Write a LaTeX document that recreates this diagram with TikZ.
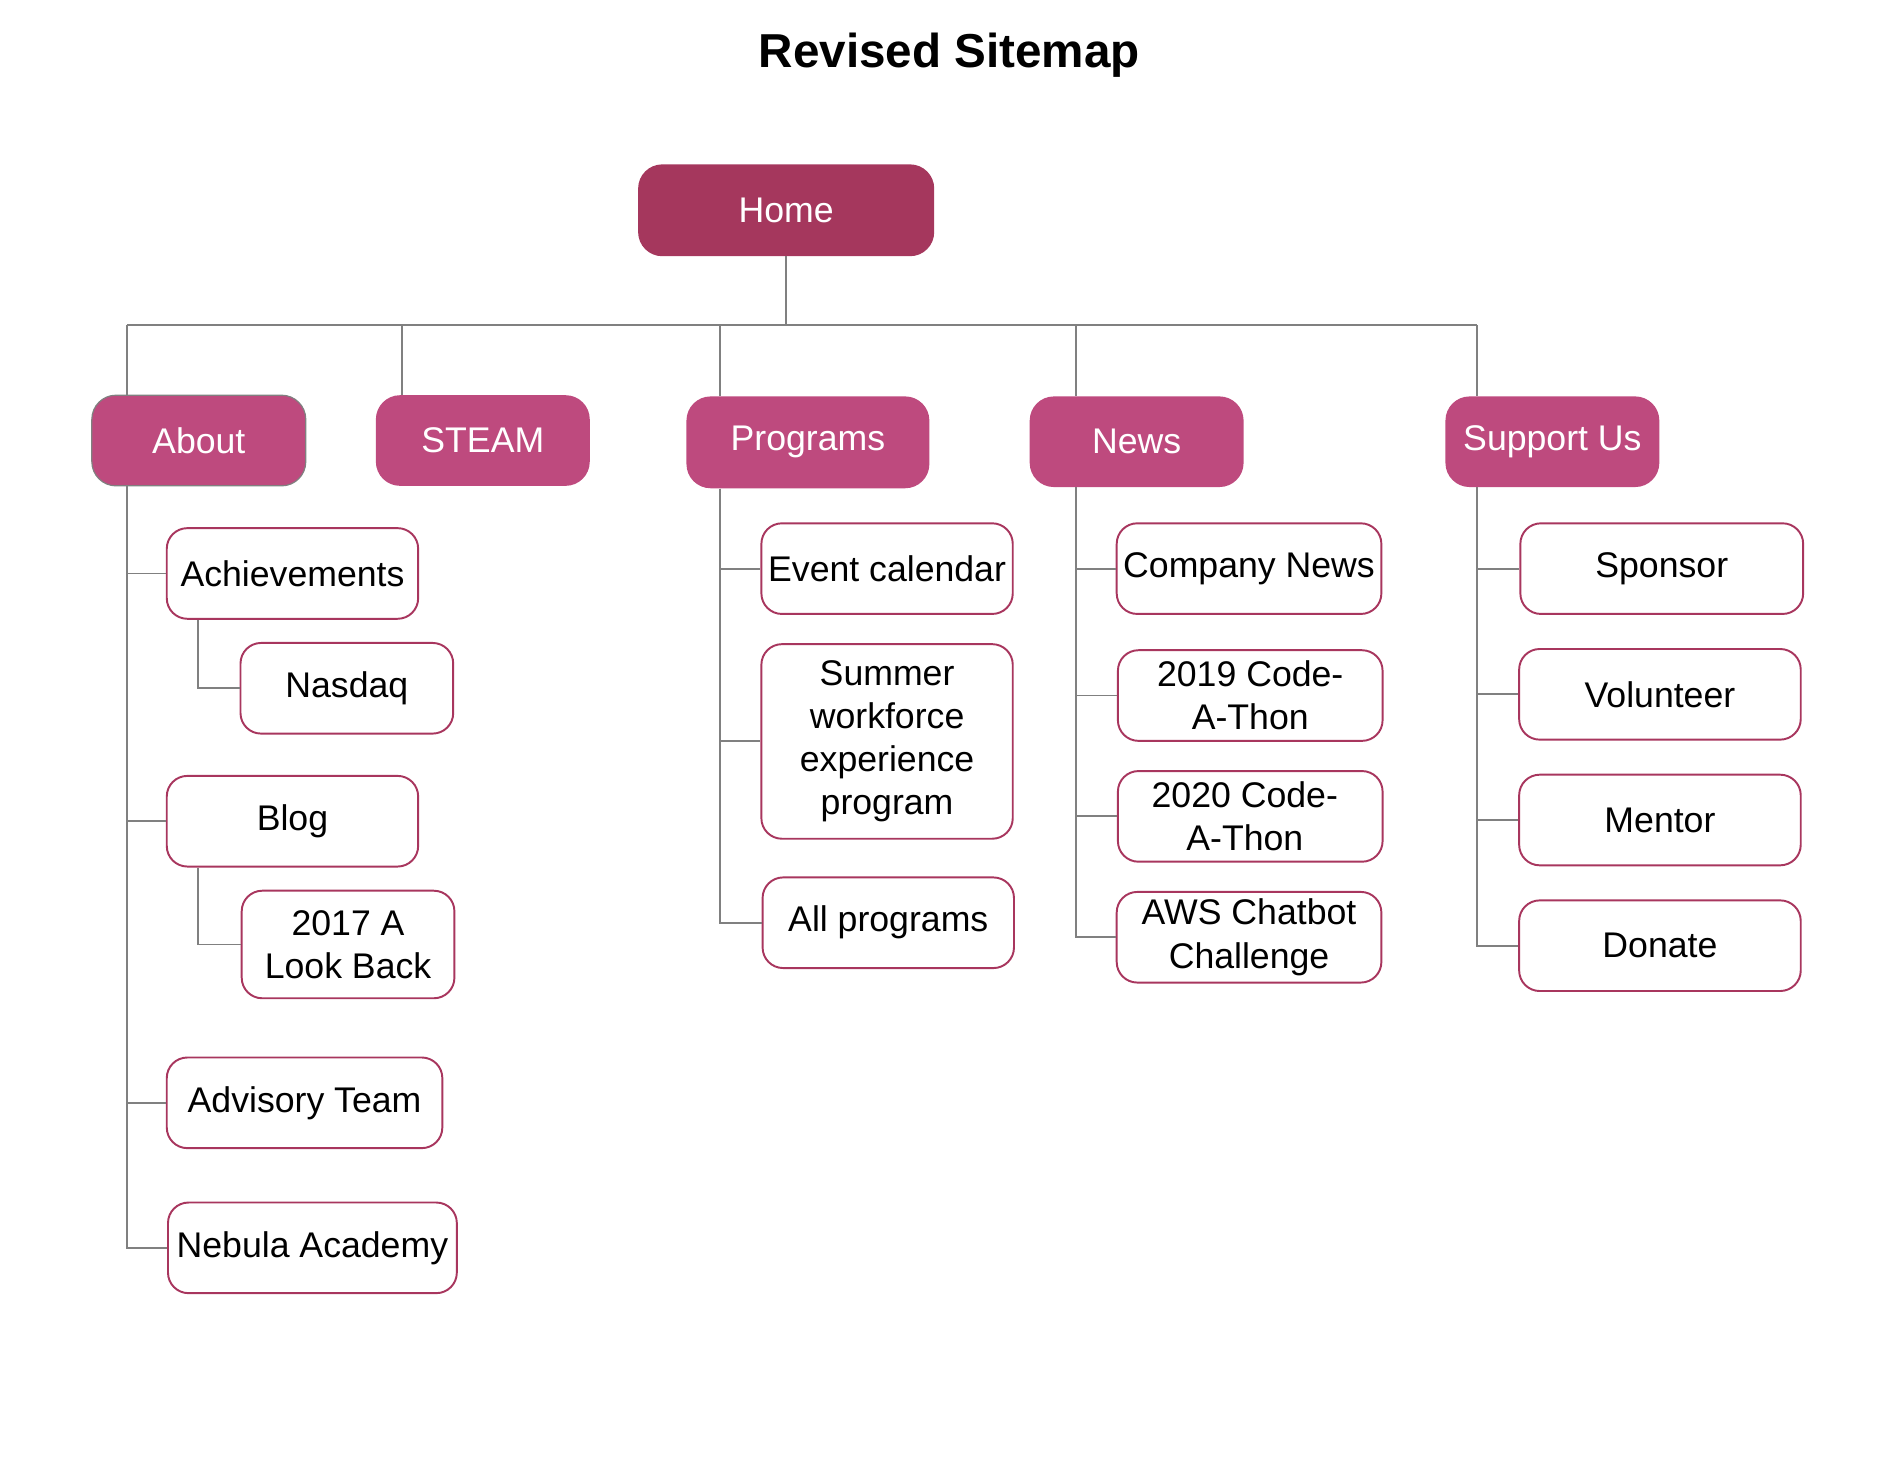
\documentclass[tikz,border=0pt]{standalone}
\usepackage{fontspec}
\setmainfont{Liberation Sans}
\usetikzlibrary{calc}
\definecolor{homefill}{HTML}{A5375D}
\definecolor{lvlfill}{HTML}{BE4A7E}
\definecolor{cborder}{HTML}{A8365E}
\definecolor{linegray}{HTML}{808080}
\tikzset{
  bodyfont/.style={font=\fontsize{29.5}{35.7}\selectfont},
  homebox/.style={bodyfont, fill=homefill, text=white, rounded corners=20pt, inner sep=0pt, align=center},
  lvlbox/.style={bodyfont, fill=lvlfill, text=white, rounded corners=20pt, inner sep=0pt, align=center},
  childbox/.style={bodyfont, draw=cborder, line width=1.6pt, fill=white, text=black, rounded corners=17pt, inner sep=0pt, align=center},
  conn/.style={draw=linegray, line width=1.6pt},
}
\begin{document}
\begin{tikzpicture}[x=1pt,y=-1pt]
\useasboundingbox (0,0) rectangle (1568,1205.6);
\node[font=\fontsize{39.4}{44}\selectfont\bfseries] (title) at (785.5,45.5) {Revised Sitemap};

% level 0 and 1
\node[homebox, minimum width=245pt, minimum height=76pt] (home) at (650.5,174) {Home};
\node[lvlbox, draw=linegray, line width=1pt, minimum width=177pt, minimum height=75pt] (about) at (164.5,364.5) {About};
\node[lvlbox, minimum width=177pt, minimum height=75pt] (steam) at (399.5,364.5) {STEAM};
\node[lvlbox, minimum width=201pt, minimum height=76pt] (programs) at (668.5,366) {Programs};
\node[lvlbox, minimum width=177pt, minimum height=75pt] (news) at (940.5,365.5) {News};
\node[lvlbox, minimum width=177pt, minimum height=75pt] (support) at (1284.5,365.5) {Support Us};

% About children
\node[childbox, minimum width=208pt, minimum height=75pt] (achv) at (242,474.5) {Achievements};
\node[childbox, minimum width=176pt, minimum height=75pt] (nasdaq) at (287,569.5) {Nasdaq};
\node[childbox, minimum width=208pt, minimum height=75pt] (blog) at (242,679.5) {Blog};
\node[childbox, minimum width=176pt, minimum height=89pt] (lookback) at (288,781.5) {2017 A\\Look Back};
\node[childbox, minimum width=228pt, minimum height=75pt] (advisory) at (252,912.5) {Advisory Team};
\node[childbox, minimum width=239pt, minimum height=75pt] (nebula) at (258.5,1032.5) {Nebula Academy};

% Programs children
\node[childbox, minimum width=208pt, minimum height=75pt] (event) at (734,470.5) {Event calendar};
\node[childbox, minimum width=208pt, minimum height=161pt] (summer) at (734,613.5) {Summer\\workforce\\experience\\program};
\node[childbox, minimum width=208pt, minimum height=75pt] (allprog) at (735,763.5) {All programs};

% News children
\node[childbox, minimum width=219pt, minimum height=75pt] (company) at (1033.5,470.5) {Company News};
\node[childbox, minimum width=219pt, minimum height=75pt] (code19) at (1034.5,575.5) {2019 Code-\\A-Thon};
\node[childbox, minimum width=219pt, minimum height=75pt] (code20) at (1034.5,675.5) {2020 Code-\hspace*{9pt}\\A-Thon\hspace*{9pt}};
\node[childbox, minimum width=219pt, minimum height=75pt] (aws) at (1033.5,775.5) {AWS Chatbot\\Challenge};

% Support children
\node[childbox, minimum width=234pt, minimum height=75pt] (sponsor) at (1375,470.5) {Sponsor};
\node[childbox, minimum width=233pt, minimum height=75pt] (volunteer) at (1373.5,574.5) {Volunteer};
\node[childbox, minimum width=233pt, minimum height=75pt] (mentor) at (1373.5,678.5) {Mentor};
\node[childbox, minimum width=233pt, minimum height=75pt] (donate) at (1373.5,782.5) {Donate};

% bus
\coordinate (busA) at (105,269);
\coordinate (busS) at (333,269);
\coordinate (busP) at (596,269);
\coordinate (busN) at (890,269);
\coordinate (busU) at (1222,269);
\draw[conn] (home.south) -- (home.south |- busA);
\draw[conn] (busA) -- (busU);
\draw[conn] (busA) -- (busA |- about.north);
\draw[conn] (busS) -- (busS |- steam.north);
\draw[conn] (busP) -- (busP |- programs.north);
\draw[conn] (busN) -- (busN |- news.north);
\draw[conn] (busU) -- (busU |- support.north);

% trunks
\coordinate (tA) at (busA |- about.south);
\coordinate (tP) at (busP |- programs.south);
\coordinate (tN) at (busN |- news.south);
\coordinate (tU) at (busU |- support.south);
\foreach \c in {achv,blog,advisory,nebula} \draw[conn] (tA) |- (\c.west);
\foreach \c in {event,summer,allprog} \draw[conn] (tP) |- (\c.west);
\foreach \c in {company,code19,code20,aws} \draw[conn] (tN) |- (\c.west);
\foreach \c in {sponsor,volunteer,mentor,donate} \draw[conn] (tU) |- (\c.west);
\draw[conn] ($(achv.south west)+(27,0)$) |- (nasdaq.west);
\draw[conn] ($(blog.south west)+(27,0)$) |- (lookback.west);
\end{tikzpicture}
\end{document}
